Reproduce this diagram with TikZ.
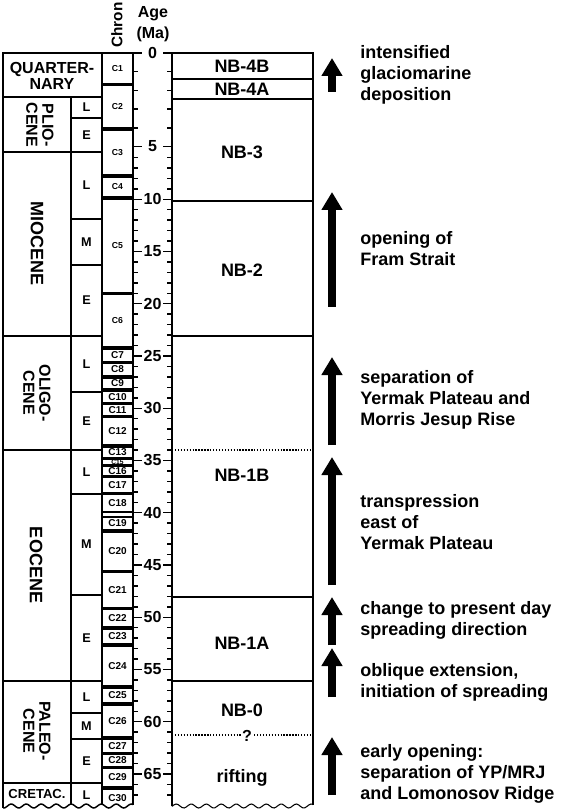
\documentclass[tikz,border=0pt]{standalone}
\usepackage{fontspec}
\setmainfont{Liberation Sans}
\usetikzlibrary{arrows.meta}

\tikzset{
  colline/.style={line width=1.1pt},
  nbline/.style={line width=0.8pt},
  dotline/.style={line width=1pt, dash pattern=on 1pt off 1.2pt},
  epochtxt/.style={font=\bfseries\fontsize{12}{10}\selectfont, align=center, inner sep=0pt},
  subtxt/.style={font=\bfseries\fontsize{9.5}{10}\selectfont, inner sep=0pt},
  chrontxt/.style={font=\bfseries\fontsize{6.5}{7}\selectfont, inner sep=0pt},
  agetxt/.style={font=\bfseries\fontsize{12}{12}\selectfont, inner sep=0pt},
  nbtxt/.style={font=\bfseries\fontsize{13.5}{14}\selectfont, inner sep=0pt},
  eventtxt/.style={font=\bfseries\fontsize{13.5}{15.75}\selectfont, align=left, anchor=west, inner sep=0pt},
  bigarrow/.style={line width=6pt, -{Triangle[width=15pt,length=13.5pt]}},
}

\begin{document}
\begin{tikzpicture}[x=0.75pt, y=-0.75pt]
\useasboundingbox (0,0) rectangle (567,812);

% column heads
\node[agetxt, rotate=90, font=\bfseries\fontsize{11.5}{12}\selectfont] (chronhead) at (117,25) {Chron};
\node[agetxt] (agehead) at (153,14) {Age};
\node[agetxt] (mahead) at (153,34) {(Ma)};

% wavy base of the columns
\draw[colline] plot[domain=3:133, samples=70, smooth] (\x,{806+2*sin(24*\x)});
\draw[nbline] plot[domain=172:313, samples=70, smooth] (\x,{806+2*sin(24*\x)});

% epoch / sub-epoch / chron frame
\draw[colline] (3,{806+2*sin(72)}) -- (3,53) -- (133,53) -- (133,{806+2*sin(24*133)});
\draw[colline] (102,53) -- (102,{806+2*sin(24*102)});
\draw[colline] (71,97) -- (71,{806+2*sin(24*71)});
\foreach \yy in {97,152,336,450,681,783}
  \draw[colline] (3,\yy) -- (102,\yy);
\foreach \yy in {118,219,265,392,494,595,713,739}
  \draw[colline] (71,\yy) -- (102,\yy);

% epochs
\node[epochtxt] (quat) at (52,76) {QUARTER-\\NARY};
\node[epochtxt, rotate=-90, font=\bfseries\fontsize{12}{12}\selectfont] (plio) at (40,125) {PLIO-\\CENE};
\node[epochtxt, rotate=-90, font=\bfseries\fontsize{13.5}{12}\selectfont] (mio) at (37,244) {MIOCENE};
\node[epochtxt, rotate=-90, font=\bfseries\fontsize{12}{12}\selectfont] (oligo) at (37,393) {OLIGO-\\CENE};
\node[epochtxt, rotate=-90, font=\bfseries\fontsize{13.5}{12}\selectfont] (eo) at (36,565) {EOCENE};
\node[epochtxt, rotate=-90, font=\bfseries\fontsize{12}{12}\selectfont] (paleo) at (37,731) {PALEO-\\CENE};
\node[epochtxt, font=\bfseries\fontsize{9.8}{10}\selectfont] (cret) at (37,794) {CRETAC.};

% sub-epochs
\foreach \yy/\lbl [count=\i] in {107.5/L,135/E,185.5/L,242/M,300.5/E,364/L,421/E,472/L,544.5/M,638/E,697/L,726/M,761/E,795/L}
  \node[subtxt] (sub\i) at (86.5,\yy) {\lbl};

% chrons
\foreach \t/\b/\lbl in {53/84/C1,85/128/C2,130/175/C3,177/197/C4,199/293/C5,294/347/C6}{
  \draw[colline] (102,\t) -- (133,\t) (102,\b) -- (133,\b);
  \node[chrontxt] (\lbl) at (117.5,{(\t+\b)/2}) {\lbl};
}
\foreach \t/\b/\lbl in {349/362/C7,363/376/C8,378/389/C9,391/403/C10,404/416/C11,417/445/C12,447/458/C13,466/476/C16,477/493/C17,494/512/C18,517/530/C19,532/571/C20,572/608/C21,609/627/C22,629/644/C23,646/686/C24,688/703/C25,705/737/C26,739/753/C27,754/767/C28,768/787/C29}{
  \draw[colline] (102,\t) -- (133,\t) (102,\b) -- (133,\b);
  \node[chrontxt, font=\bfseries\fontsize{7.5}{8}\selectfont] (\lbl) at (117.5,{(\t+\b)/2}) {\lbl};
}
\draw[colline] (102,459) -- (133,459) (102,465) -- (133,465) (102,789) -- (133,789);
\node[chrontxt, font=\bfseries\fontsize{5}{5}\selectfont] (C15) at (117.5,462) {C15};
\node[chrontxt, font=\bfseries\fontsize{7.5}{8}\selectfont] (C30) at (117.5,798) {C30};

% age scale
\foreach \t in {0,...,67}{
  \pgfmathsetmacro\yy{\t<=5 ? 53+18.7*\t : 147+10.45*(\t-5)}
  \pgfmathtruncatemacro\major{mod(\t,5)==0 ? 1 : 0}
  \ifnum\major=1
    \draw[colline] (133,\yy) -- (142,\yy) (163,\yy) -- (172,\yy);
    \node[agetxt] (age\t) at (152.5,\yy) {\t};
  \else
    \draw[colline] (133,\yy) -- (138,\yy) (167,\yy) -- (172,\yy);
  \fi
}

% NB units
\draw[nbline] (172,{806+2*sin(24*172)}) -- (172,53) -- (313,53) -- (313,{806+2*sin(24*313)});
\foreach \yy in {79,99,201,336,597,681}
  \draw[nbline] (172,\yy) -- (313,\yy);
\draw[dotline] (172,450) -- (313,450);
\draw[dotline] (172,735) -- (313,735);
\node[nbtxt] (nb4b) at (242,66) {NB-4B};
\node[nbtxt] (nb4a) at (242,89) {NB-4A};
\node[nbtxt] (nb3) at (242,152) {NB-3};
\node[nbtxt] (nb2) at (242,270) {NB-2};
\node[nbtxt] (nb1b) at (242,475) {NB-1B};
\node[nbtxt] (nb1a) at (242,643) {NB-1A};
\node[nbtxt] (nb0) at (242,710) {NB-0};
\node[nbtxt, fill=white, font=\bfseries\fontsize{12}{12}\selectfont, inner sep=1pt] (unsure) at (247,736) {?};
\node[nbtxt] (rift) at (242,778) {rifting};

% tectonic events
\draw[bigarrow] (332,92) -- (332,58);
\node[eventtxt] (ev1) at (360,75) {intensified\\glaciomarine\\deposition};
\draw[bigarrow] (332,307) -- (332,192);
\node[eventtxt] (ev2) at (360,249) {opening of\\Fram Strait};
\draw[bigarrow] (332,445) -- (332,357);
\node[eventtxt] (ev3) at (360,400) {separation of\\Yermak Plateau and\\Morris Jesup Rise};
\draw[bigarrow] (332,585) -- (332,457);
\node[eventtxt] (ev4) at (360,522) {transpression\\east of\\Yermak Plateau};
\draw[bigarrow] (332,645) -- (332,597);
\node[eventtxt] (ev5) at (360,620) {change to present day\\spreading direction};
\draw[bigarrow] (332,697) -- (332,648);
\node[eventtxt] (ev6) at (360,682) {oblique extension,\\initiation of spreading};
\draw[bigarrow] (332,795) -- (332,737);
\node[eventtxt] (ev7) at (360,774) {early opening:\\separation of YP/MRJ\\and Lomonosov Ridge};
\end{tikzpicture}
\end{document}
